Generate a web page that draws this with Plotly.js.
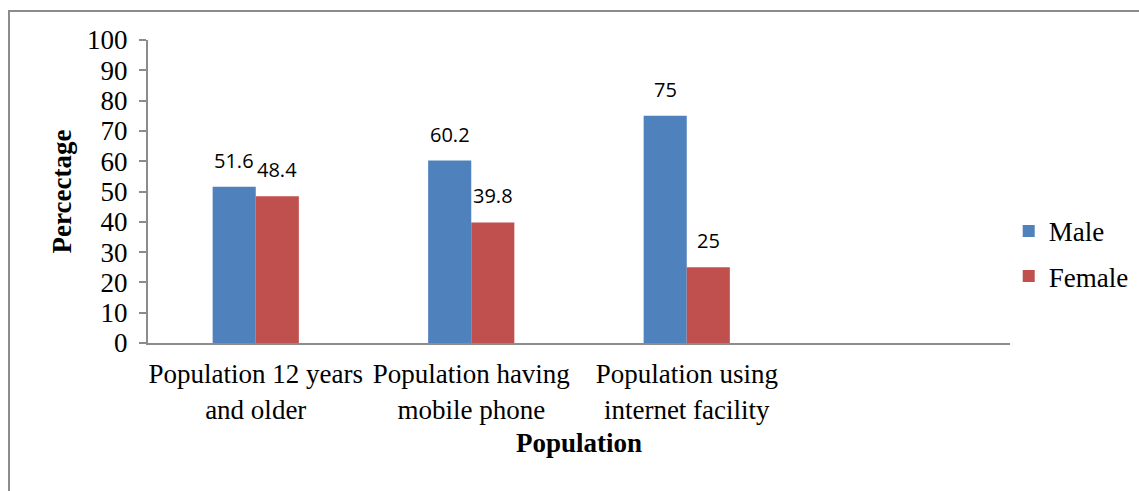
<!DOCTYPE html>
<html>
<head>
<meta charset="utf-8">
<script src="https://cdn.plot.ly/plotly-3.0.1.min.js"></script>
<style>
  html, body { margin: 0; padding: 0; background: #fff; }
  #wrap { position: relative; width: 1139px; height: 491px; overflow: hidden; }
  #chart { width: 1139px; height: 491px; }
  #frame { position: absolute; left: 8px; top: 10px; width: 1200px; height: 600px;
           border-left: 2px solid #8c8c8c; border-top: 2px solid #8c8c8c; pointer-events: none; }
</style>
</head>
<body>
<div id="wrap">
  <div id="chart"></div>
  <div id="frame"></div>
</div>
<script>
// Share of population by sex (%)
const categories = [
  "Population 12 years<br>and older",
  "Population having<br>mobile phone",
  "Population using<br>internet facility"
];
const maleValues = [51.6, 60.2, 75];
const femaleValues = [48.4, 39.8, 25];
const yTicks = [0, 10, 20, 30, 40, 50, 60, 70, 80, 90, 100];

const serif = "Liberation Serif, Times New Roman, serif";
const labelFont = { family: "Open Sans, sans-serif", size: 20, color: "#000" };

const traces = [
  {
    type: "bar", name: "Male", x: categories, y: maleValues,
    marker: { color: "#4F81BD" }, legendgroup: "m", hoverinfo: "skip"
  },
  {
    type: "bar", name: "Female", x: categories, y: femaleValues,
    marker: { color: "#C0504D" }, legendgroup: "f", hoverinfo: "skip"
  }
];

// value labels above each bar; each bar takes 0.2 of a category slot
const annotations = [];
const series = [[maleValues, -0.1], [femaleValues, 0.1]];
series.forEach(([vals, off]) => {
  vals.forEach((v, i) => {
    annotations.push({
      xref: "x", yref: "y", x: i + off, y: v,
      text: String(v), showarrow: false,
      yanchor: "bottom", yshift: 11, font: labelFont
    });
  });
});

const layout = {
  width: 1139, height: 491,
  margin: { l: 148, r: 129, t: 40, b: 148, autoexpand: false },
  paper_bgcolor: "#fff", plot_bgcolor: "#fff",
  barmode: "group", bargap: 0.6, bargroupgap: 0,
  showlegend: true,
  legend: {
    x: 0.9985, xanchor: "left", y: 0.294, yanchor: "middle",
    font: { family: serif, size: 27, color: "#000" },
    traceorder: "grouped", tracegroupgap: 7,
    bgcolor: "rgba(0,0,0,0)"
  },
  xaxis: {
    type: "category", range: [-0.5, 3.5],
    showline: true, linecolor: "#8c8c8c", linewidth: 2,
    ticks: "", showgrid: false, zeroline: false,
    ticklabelstandoff: 6,
    tickfont: { family: serif, size: 27, color: "#000" },
    title: { text: "<b>Population</b>", font: { family: serif, size: 27, color: "#000" }, standoff: 10 }
  },
  yaxis: {
    range: [0, 100], tickvals: yTicks, ticktext: yTicks.map(String),
    showline: true, linecolor: "#8c8c8c", linewidth: 2,
    ticks: "outside", ticklen: 7, tickcolor: "#8c8c8c", tickwidth: 2,
    ticklabelstandoff: 6,
    showgrid: false, zeroline: false,
    tickfont: { family: serif, size: 27, color: "#000" },
    title: { text: "<b>Percectage</b>", font: { family: serif, size: 27, color: "#000" }, standoff: 8 }
  },
  annotations: annotations
};

Plotly.newPlot("chart", traces, layout, { displayModeBar: false, staticPlot: true });
</script>
</body>
</html>
